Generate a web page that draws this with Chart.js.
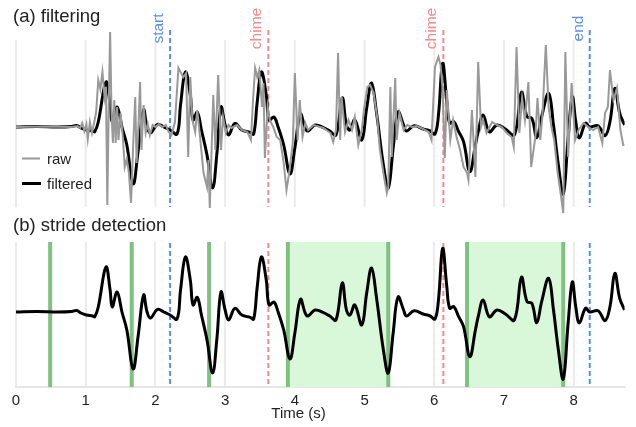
<!DOCTYPE html>
<html>
<head>
<meta charset="utf-8">
<script src="https://cdn.jsdelivr.net/npm/chart.js@4.4.1/dist/chart.umd.min.js"></script>
<style>
  html, body { margin: 0; padding: 0; background: #fff; }
  #wrap { position: relative; width: 636px; height: 427px; }
  #wrap canvas { position: absolute; left: 0; }
  #filterChart { top: 0; }
  #strideChart { top: 215px; }
</style>
</head>
<body>
<div id="wrap">
  <canvas id="filterChart" width="636" height="215"></canvas>
  <canvas id="strideChart" width="636" height="212"></canvas>
</div>
<script>
// filtered signal (time in s, amplitude in arbitrary units)
const filteredTime = [0.00, 0.30, 0.60, 0.80, 0.87, 0.93, 1.01, 1.10, 1.13, 1.18, 1.29, 1.35, 1.38, 1.45, 1.52, 1.59, 1.68, 1.75, 1.83, 1.88, 1.93, 2.03, 2.12, 2.21, 2.31, 2.36, 2.43, 2.50, 2.54, 2.60, 2.66, 2.74, 2.82, 2.88, 2.94, 3.00, 3.05, 3.14, 3.24, 3.36, 3.41, 3.46, 3.52, 3.59, 3.63, 3.70, 3.76, 3.84, 3.93, 4.00, 4.08, 4.15, 4.19, 4.29, 4.41, 4.50, 4.59, 4.68, 4.74, 4.79, 4.86, 4.96, 5.03, 5.10, 5.17, 5.27, 5.34, 5.41, 5.48, 5.56, 5.60, 5.71, 5.84, 5.94, 6.01, 6.06, 6.12, 6.18, 6.22, 6.28, 6.35, 6.42, 6.51, 6.59, 6.63, 6.70, 6.79, 6.90, 7.02, 7.15, 7.25, 7.33, 7.40, 7.47, 7.54, 7.64, 7.71, 7.78, 7.85, 7.92, 7.98, 8.03, 8.08, 8.17, 8.23, 8.35, 8.45, 8.52, 8.59, 8.66, 8.73];
const filteredValue = [0, 0.5, 0, 0.5, 1.5, -1, -3, -4, -4.7, 5, 45, 22, 5, 20, 0, -18, -57, -25, 17, 0, -6, 2.7, 0, -3, -7, 22, 55, 32, 7, 14.7, -3, -28, -61, -28, 20, 2, -8, 3.7, -3, -5.3, -7, 25, 55, 32, 7, 10, 0, -18, -47, -21, 12.7, -1.3, -4, 2, -0.7, -4, -8, 29, 2, -3, 7, -13, 18.7, 44, 15, -38, -61, -21, 15, 2, -4, 1.3, -2, -4, -7, 12, 63.7, 25, 3.7, 5.3, -4.7, -14.7, -44.7, -18, -4.7, 12, -4.7, 2, -2, -8, 34.7, 10.3, 8.7, -10.7, 10.3, 33.7, 2, -38, -67, -11, 30, 5, -11, 3.7, 0, 1.3, -8.7, 5.3, 38.7, 13.7, 2];

// raw signal
const rawTime = [0.00, 0.40, 0.80, 0.88, 0.92, 0.95, 0.98, 1.01, 1.03, 1.06, 1.09, 1.12, 1.15, 1.18, 1.21, 1.24, 1.27, 1.29, 1.31, 1.33, 1.35, 1.37, 1.39, 1.41, 1.43, 1.45, 1.47, 1.50, 1.53, 1.56, 1.59, 1.62, 1.65, 1.68, 1.71, 1.73, 1.76, 1.78, 1.80, 1.83, 1.86, 1.89, 1.92, 1.96, 2.00, 2.05, 2.10, 2.15, 2.19, 2.23, 2.28, 2.33, 2.36, 2.40, 2.44, 2.47, 2.50, 2.53, 2.57, 2.60, 2.64, 2.69, 2.74, 2.76, 2.78, 2.83, 2.86, 2.90, 2.94, 2.97, 3.01, 3.05, 3.09, 3.17, 3.24, 3.32, 3.37, 3.40, 3.43, 3.46, 3.49, 3.53, 3.55, 3.57, 3.61, 3.64, 3.69, 3.74, 3.79, 3.84, 3.88, 3.92, 3.97, 4.00, 4.04, 4.07, 4.11, 4.15, 4.19, 4.27, 4.41, 4.51, 4.55, 4.59, 4.62, 4.65, 4.67, 4.72, 4.77, 4.82, 4.86, 4.91, 4.96, 4.99, 5.04, 5.08, 5.13, 5.18, 5.22, 5.27, 5.32, 5.34, 5.37, 5.39, 5.44, 5.46, 5.50, 5.56, 5.61, 5.68, 5.75, 5.84, 5.92, 5.96, 6.01, 6.06, 6.09, 6.12, 6.15, 6.18, 6.23, 6.27, 6.32, 6.37, 6.42, 6.47, 6.49, 6.54, 6.59, 6.63, 6.67, 6.70, 6.75, 6.83, 6.90, 6.97, 7.04, 7.11, 7.14, 7.18, 7.22, 7.26, 7.30, 7.35, 7.39, 7.45, 7.48, 7.52, 7.55, 7.60, 7.64, 7.68, 7.72, 7.77, 7.82, 7.85, 7.88, 7.92, 7.95, 7.97, 8.02, 8.07, 8.14, 8.21, 8.28, 8.35, 8.41, 8.45, 8.49, 8.52, 8.57, 8.62, 8.67, 8.71, 8.73];
const rawValue = [0, 0.5, 0, 1, -1, 4, -4, 3, -12, 5, -6, 4, 15, 47, 38, 55, 30, 40, -78, 20, 95, 15, -16, 27, -16, 20, -13, 14, -8, -40, -32, -46, -76, -20, 30, -36, 7, 45, -23, 22, -6, 3, -8, 2, 0, 3, 0, 2, -5, -8, 5, 59, 55, 50, 54, -30, 50, 7, -5, 17, -10, -46, -60, -33, -81, 32, -23, 52, -23, 10, -6, 2, -1, 2, -3, -5, -13, 27, 59, 50, 57, 20, 44, -31, 20, 7, 0, -10, -13, -36, -63, -45, -16, 54, -13, 27, -10, 4, -3, 2, -1, -6, -15, -3, 74, -13, 30, -5, 7, -3, 10, -18, -3, 17, 40, 42, 34, 10, -23, -46, -66, -60, 40, -30, 49, -13, 14, -3, 2, 0, 1, -2, -5, -13, 60, 70, 62, 37, -31, 37, -13, 7, -10, -23, -40, -46, -53, 17, -50, 65, 0, 7, -6, 5, 2, 0, -6, -10, -20, 80, -6, 29, 7, 45, -40, -10, 29, -13, 10, 82, 20, 0, -13, -46, -70, -86, 75, -30, 14, 44, -13, -3, 4, 0, -3, 0, -16, 14, 20, 57, 27, 39, -3, -18, -18];

// events and strides
const eventTimes = [2.21, 3.62, 6.13, 8.23];
const eventLabels = ["start", "chime", "chime", "end"];
const strideTimes = [0.49, 1.66, 2.77, 3.90, 5.34, 6.47, 7.85];
const strideSpanStart = [3.90, 6.47];
const strideSpanEnd = [5.34, 7.85];
const xTicks = [0, 1, 2, 3, 4, 5, 6, 7, 8];

const FONT = '"Liberation Sans", Arial, sans-serif';
const BLUE = "#5b8def";
const RED = "#f28b8b";
const GRID = "#ebebeb";

function pts(ts, vs) {
  return ts.map((t, i) => ({ x: t, y: vs[i] }));
}

function vline(ctx, x, y1, y2, color, width, dash) {
  ctx.save();
  ctx.strokeStyle = color;
  ctx.lineWidth = width;
  ctx.setLineDash(dash || []);
  ctx.beginPath();
  ctx.moveTo(x, y1);
  ctx.lineTo(x, y2);
  ctx.stroke();
  ctx.restore();
}

// panel (a)
const filterPlugin = {
  id: "filterDecor",
  beforeDatasetsDraw(chart) {
    const { ctx, scales: { x, y } } = chart;
    xTicks.forEach(t => {
      vline(ctx, x.getPixelForValue(t), y.getPixelForValue(87), y.getPixelForValue(-80), GRID, 2);
    });
    eventTimes.forEach((t, i) => {
      const col = eventLabels[i] === "chime" ? RED : BLUE;
      const px = x.getPixelForValue(t);
      vline(ctx, px, y.getPixelForValue(97), y.getPixelForValue(-80), col, 2, [5, 3]);
      ctx.save();
      ctx.translate(px - 11.5, 28.5);
      ctx.rotate(-Math.PI / 2);
      ctx.fillStyle = col;
      ctx.font = "15.5px " + FONT;
      ctx.textAlign = "center";
      ctx.textBaseline = "middle";
      ctx.fillText(eventLabels[i], 0, 0);
      ctx.restore();
    });
  },
  afterDraw(chart) {
    const { ctx } = chart;
    ctx.save();
    ctx.fillStyle = "#222";
    ctx.font = "18.5px " + FONT;
    ctx.textBaseline = "alphabetic";
    ctx.fillText("(a) filtering", 13, 22);
    // legend
    ctx.lineWidth = 2;
    ctx.strokeStyle = "#999";
    ctx.beginPath(); ctx.moveTo(22, 158.5); ctx.lineTo(40, 158.5); ctx.stroke();
    ctx.lineWidth = 3;
    ctx.strokeStyle = "#000";
    ctx.beginPath(); ctx.moveTo(22, 183.5); ctx.lineTo(41, 183.5); ctx.stroke();
    ctx.font = "15px " + FONT;
    ctx.fillText("raw", 47, 164);
    ctx.fillText("filtered", 47, 189);
    ctx.restore();
  }
};

new Chart(document.getElementById("filterChart"), {
  type: "line",
  data: {
    datasets: [
      {
        label: "raw",
        data: pts(rawTime, rawValue),
        borderColor: "#999",
        borderWidth: 2,
        pointRadius: 0,
        tension: 0
      },
      {
        label: "filtered",
        data: pts(filteredTime, filteredValue),
        borderColor: "#000",
        borderWidth: 3,
        pointRadius: 0,
        tension: 0.4
      }
    ]
  },
  options: {
    responsive: false,
    animation: false,
    layout: { padding: { left: 16, right: 11.4, top: 0, bottom: 0 } },
    scales: {
      x: { type: "linear", min: 0, max: 8.73, display: false },
      y: { min: -88, max: 127, display: false }
    },
    plugins: { legend: { display: false }, tooltip: { enabled: false } }
  },
  plugins: [filterPlugin]
});

// panel (b)
const stridePlugin = {
  id: "strideDecor",
  beforeDatasetsDraw(chart) {
    const { ctx, chartArea: area, scales: { x, y } } = chart;
    ctx.save();
    ctx.fillStyle = "#d9f7d9";
    strideSpanStart.forEach((s, i) => {
      const x1 = x.getPixelForValue(s);
      const x2 = x.getPixelForValue(strideSpanEnd[i]);
      ctx.fillRect(x1, area.top, x2 - x1, area.bottom - area.top);
    });
    ctx.restore();
    eventTimes.forEach((t, i) => {
      const col = eventLabels[i] === "chime" ? RED : BLUE;
      vline(ctx, x.getPixelForValue(t), y.getPixelForValue(69), area.bottom, col, 2, [5, 3]);
    });
    strideTimes.forEach(t => {
      vline(ctx, x.getPixelForValue(t), area.top, area.bottom, "#80c080", 4);
    });
  },
  afterDraw(chart) {
    const { ctx } = chart;
    ctx.save();
    ctx.fillStyle = "#222";
    ctx.font = "18.5px " + FONT;
    ctx.textBaseline = "alphabetic";
    ctx.fillText("(b) stride detection", 13, 16);
    ctx.font = "15px " + FONT;
    ctx.textAlign = "center";
    ctx.textBaseline = "middle";
    ctx.fillText("Time (s)", 298.5, 199);
    ctx.restore();
  }
};

new Chart(document.getElementById("strideChart"), {
  type: "line",
  data: {
    datasets: [
      {
        label: "filtered",
        data: pts(filteredTime, filteredValue),
        borderColor: "#000",
        borderWidth: 3,
        pointRadius: 0,
        tension: 0.4
      }
    ]
  },
  options: {
    responsive: false,
    animation: false,
    layout: { padding: { left: 16, right: 11.4, top: 27, bottom: 0 } },
    scales: {
      x: {
        type: "linear",
        min: 0,
        max: 8.73,
        afterBuildTicks: s => { s.ticks = xTicks.map(v => ({ value: v })); },
        afterFit: s => { s.height = 40; },
        grid: { color: GRID, lineWidth: 2, drawTicks: false },
        border: { color: "#e6e6e6", width: 2 },
        ticks: { color: "#222", font: { size: 15, family: FONT }, padding: 5, maxRotation: 0 }
      },
      y: { min: -75, max: 70, display: false }
    },
    plugins: { legend: { display: false }, tooltip: { enabled: false } }
  },
  plugins: [stridePlugin]
});
</script>
</body>
</html>
